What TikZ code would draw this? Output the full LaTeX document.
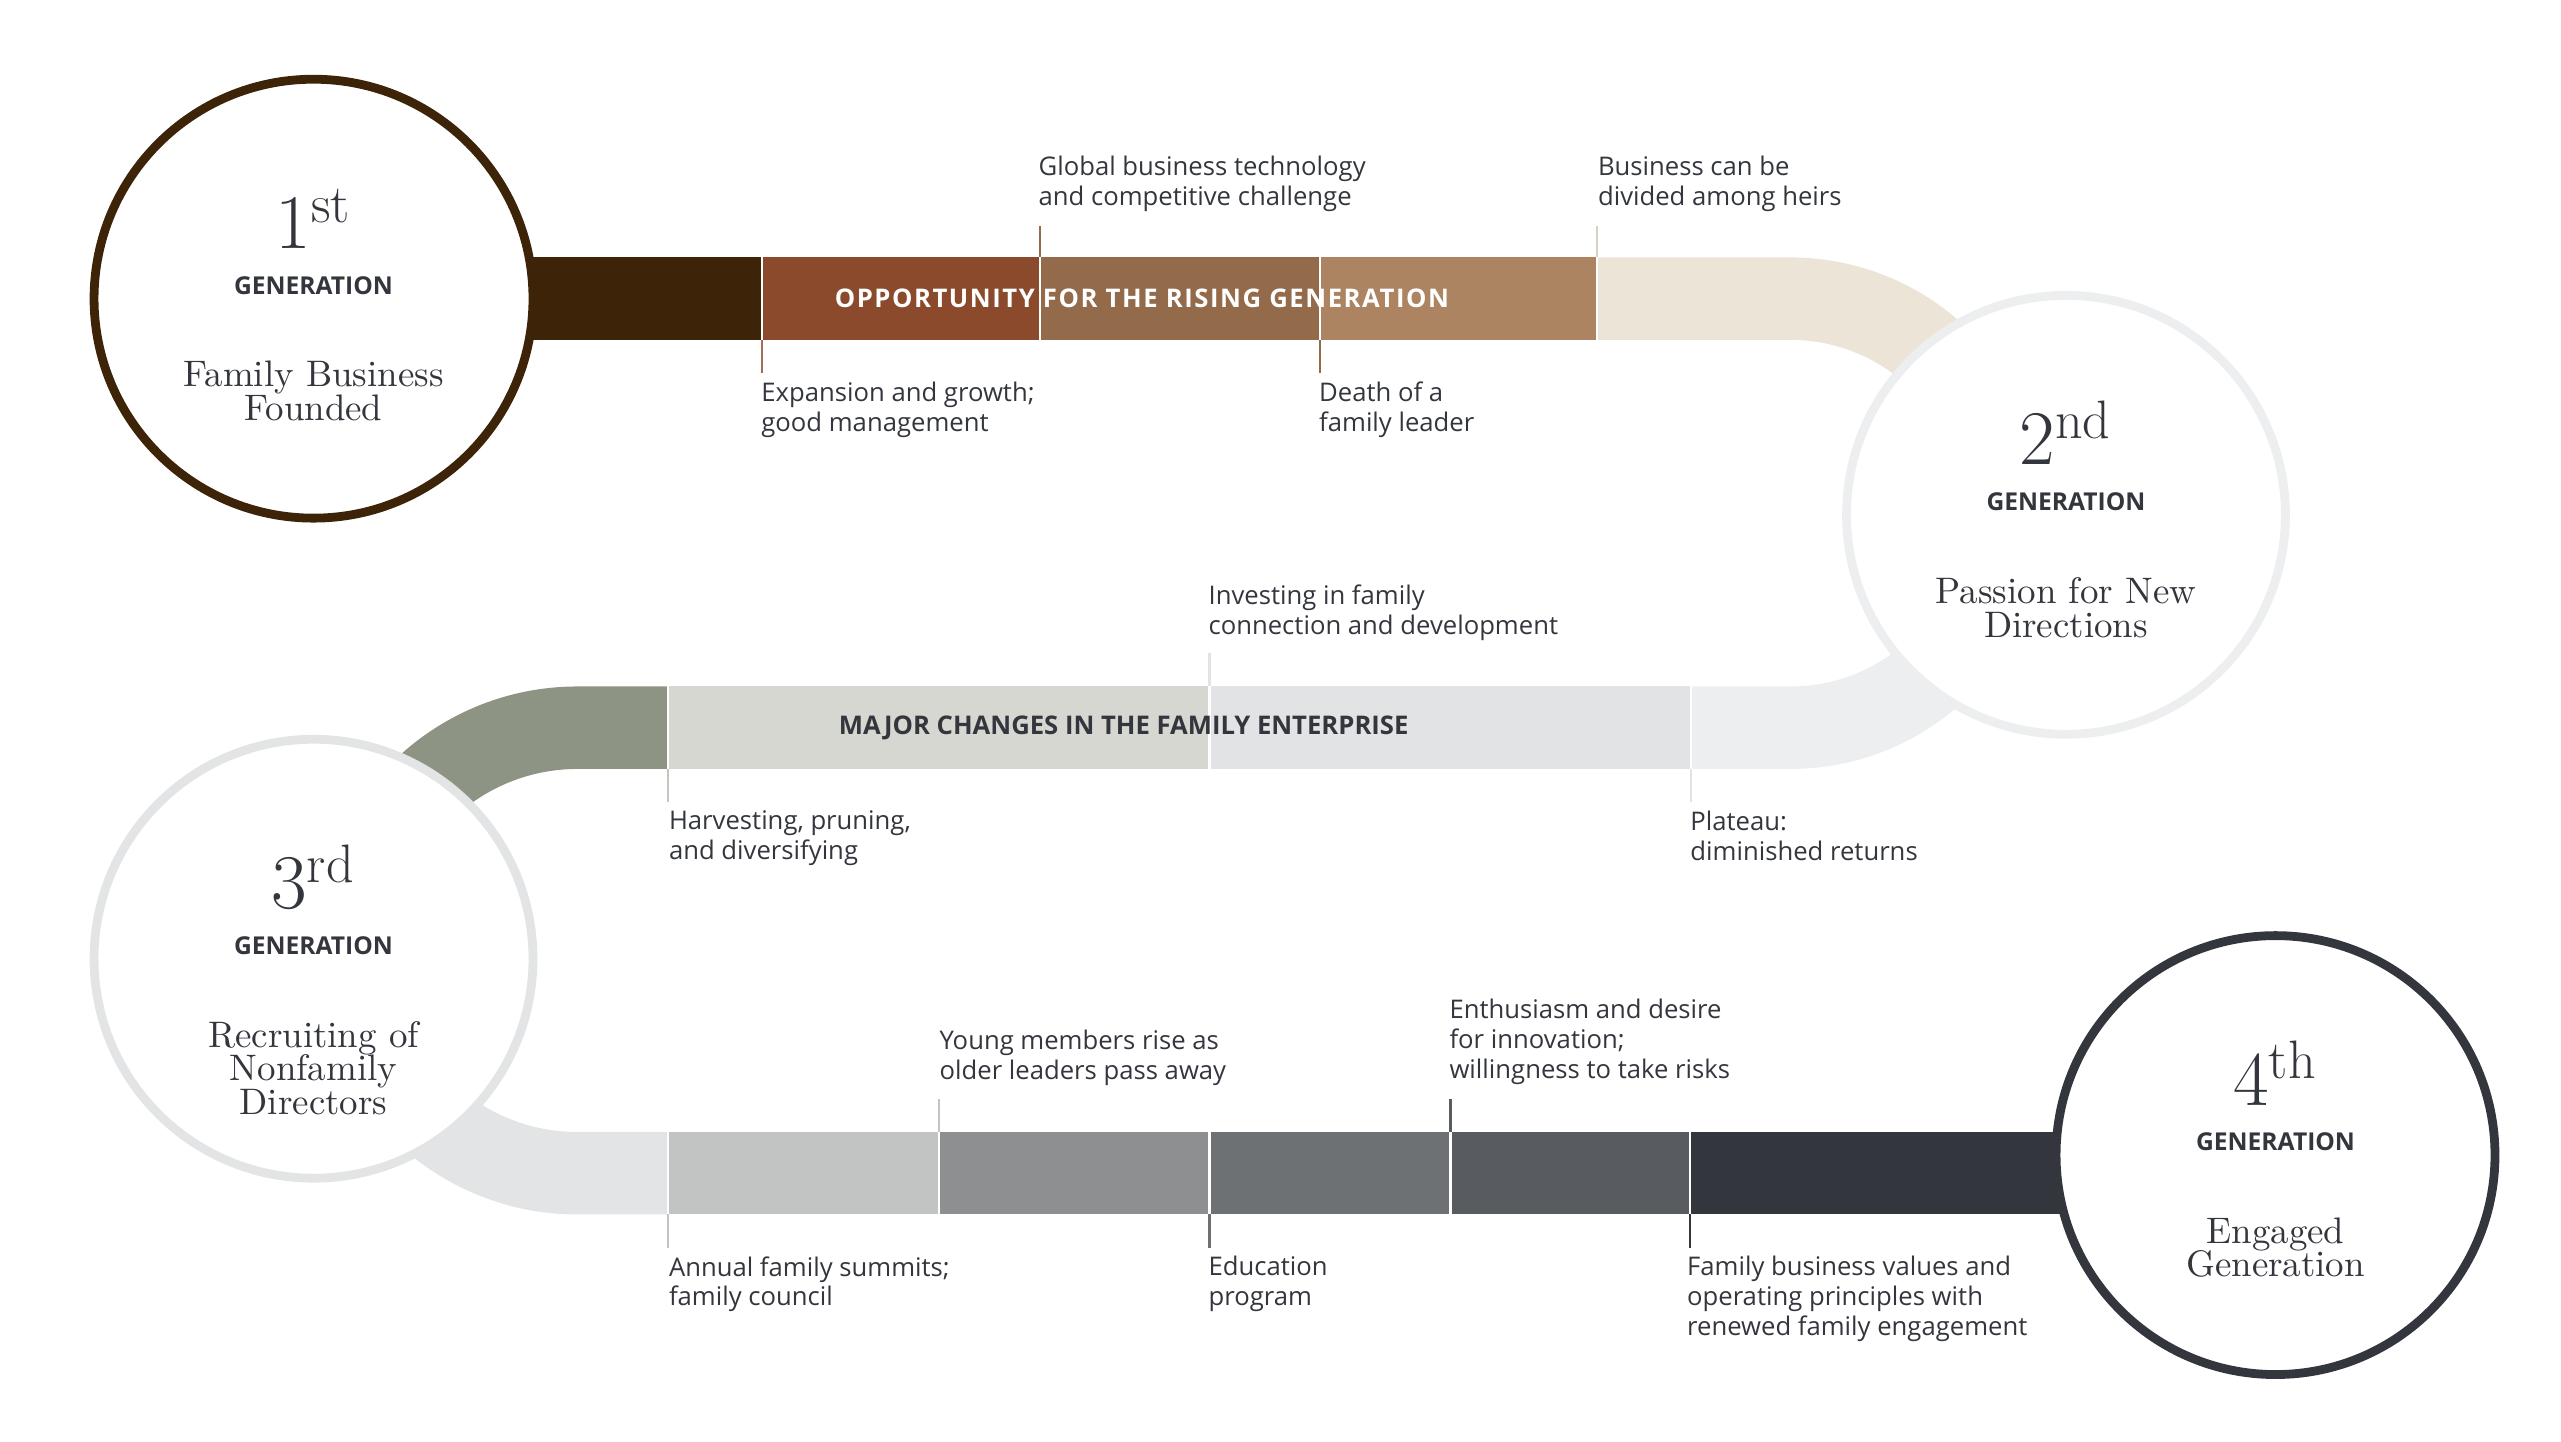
\documentclass[tikz,border=0pt]{standalone}
\usepackage{fontspec}
\setsansfont{Open Sans}
\newfontfamily\lbl{Open Sans}
\newcommand\lblsb{\lbl\bfseries}
\begin{document}
\begin{tikzpicture}[x=0.016501cm,y=-0.016501cm]
\definecolor{txt}{HTML}{33363D}
\definecolor{cA}{HTML}{3D2408}
\definecolor{cB}{HTML}{8B4A2B}
\definecolor{cC}{HTML}{946B4A}
\definecolor{cD}{HTML}{AD8462}
\definecolor{cE}{HTML}{EDE4D8}
\definecolor{cF}{HTML}{EDEEEF}
\definecolor{cG}{HTML}{E2E3E4}
\definecolor{cH}{HTML}{D6D7D0}
\definecolor{cI}{HTML}{8E9484}
\definecolor{cJ}{HTML}{E3E4E5}
\definecolor{cK}{HTML}{C2C3C3}
\definecolor{cL}{HTML}{8E8F91}
\definecolor{cM}{HTML}{6E7174}
\definecolor{cN}{HTML}{585B5F}
\definecolor{cO}{HTML}{33363D}
\tikzset{
 band/.style={line width=50*0.016501cm},
 sep/.style={draw=white,line width=0.6pt},
 tick/.style={line width=0.6pt},
 note/.style={anchor=north west,align=left,inner sep=0,text=txt,font=\lbl\fontsize{7.3}{8.5}\selectfont},
 bandlbl/.style={inner sep=0,font=\lblsb\fontsize{7.3}{9}\selectfont},
 gen/.style={circle,minimum size=266*0.016501cm,fill=white,line width=2.5pt},
 num/.style={text=txt,font=\fontsize{22}{24}\selectfont},
 gword/.style={text=txt,font=\lblsb\fontsize{7}{8}\selectfont},
 desc/.style={text=txt,align=center,font=\fontsize{10.5}{9.6}\selectfont},
}
\useasboundingbox (0,0) rectangle (1552,873.3);
% top band
\fill[cA] (300,156) rectangle (462,206);
\fill[cB] (462,156) rectangle (630,206);
\fill[cC] (630,156) rectangle (800,206);
\fill[cD] (800,156) rectangle (968,206);
\draw[band,cE] (968,181) -- (1085,181) arc(-90:0:130);
\draw[band,cF] (1215,311) arc(0:90:130) -- (1025,441);
% middle band
\fill[cG] (733,416) rectangle (1025,466);
\fill[cH] (405,416) rectangle (733,466);
\draw[band,cI] (405,441) -- (350,441) arc(-90:-180:135);
\draw[band,cJ] (215,576) arc(180:90:135) -- (405,711);
% bottom band
\fill[cK] (405,686) rectangle (569,736);
\fill[cL] (569,686) rectangle (733,736);
\fill[cM] (733,686) rectangle (879,736);
\fill[cN] (879,686) rectangle (1024,736);
\fill[cO] (1024,686) rectangle (1290,736);
% separators
\foreach \x in {462,630,800,968}{\draw[sep] (\x,156) -- (\x,206);}
\foreach \x in {405,733,1025}{\draw[sep] (\x,416) -- (\x,466);}
\foreach \x in {405,569,733,879,1024}{\draw[sep] (\x,686) -- (\x,736);}
% ticks
\draw[tick,cB!80!white] (462,206) -- (462,226);
\draw[tick,cC] (630,137) -- (630,156);
\draw[tick,cC] (800,206) -- (800,226);
\draw[tick,cE!80!gray] (968,137) -- (968,156);
\draw[tick,cG] (733,396) -- (733,416);
\draw[tick,cH!80!gray] (405,466) -- (405,486);
\draw[tick,cG] (1025,466) -- (1025,486);
\draw[tick,cK] (569,666) -- (569,686);
\draw[tick,cK] (405,736) -- (405,756);
\draw[tick,cM] (733,736) -- (733,756);
\draw[tick,cN] (879,666) -- (879,686);
\draw[tick,cO] (1024,736) -- (1024,756);
% band labels
\node[bandlbl,text=white] (l1) at (692,181) {\addfontfeature{LetterSpace=6}OPPORTUNITY FOR THE RISING GENERATION};
\node[bandlbl,text=txt] (l2) at (681,441) {MAJOR CHANGES IN THE FAMILY ENTERPRISE};
% circles
\node[gen,draw=cA] (g1) at (190,181) {};
\node[gen,draw=cF] (g2) at (1252,312) {};
\node[gen,draw=cJ] (g3) at (190,581) {};
\node[gen,draw=cO] (g4) at (1379,700) {};
\foreach \c/\n/\s/\d in {g1/1/st/{Family Business\\Founded},g2/2/nd/{Passion for New\\Directions},g3/3/rd/{Recruiting of\\Nonfamily\\Directors},g4/4/th/{Engaged\\Generation}}{
 \node[num,anchor=base] at ([yshift=0.5cm]\c.center) {\n\textsuperscript{\s}};
 \node[gword] at ([yshift=0.13cm]\c.center) {GENERATION};
 \node[desc,anchor=north] at ([yshift=-0.5cm]\c.center) {\d};
}
% notes
\node[note] (n1) at (629,94) {Global business technology\\and competitive challenge};
\node[note] (n2) at (461,231) {Expansion and growth;\\good management};
\node[note] (n3) at (799,231) {Death of a\\family leader};
\node[note] (n4) at (968,94) {Business can be\\divided among heirs};
\node[note] (n5) at (732,354) {Investing in family\\connection and development};
\node[note] (n6) at (405,491) {Harvesting, pruning,\\and diversifying};
\node[note] (n7) at (1024,491) {Plateau:\\diminished returns};
\node[note] (n8) at (569,624) {Young members rise as\\older leaders pass away};
\node[note] (n9) at (878,605) {Enthusiasm and desire\\for innovation;\\willingness to take risks};
\node[note] (n10) at (405,761) {Annual family summits;\\family council};
\node[note] (n11) at (732,761) {Education\\program};
\node[note] (n12) at (1022,761) {Family business values and\\operating principles with\\renewed family engagement};
\end{tikzpicture}
\end{document}
